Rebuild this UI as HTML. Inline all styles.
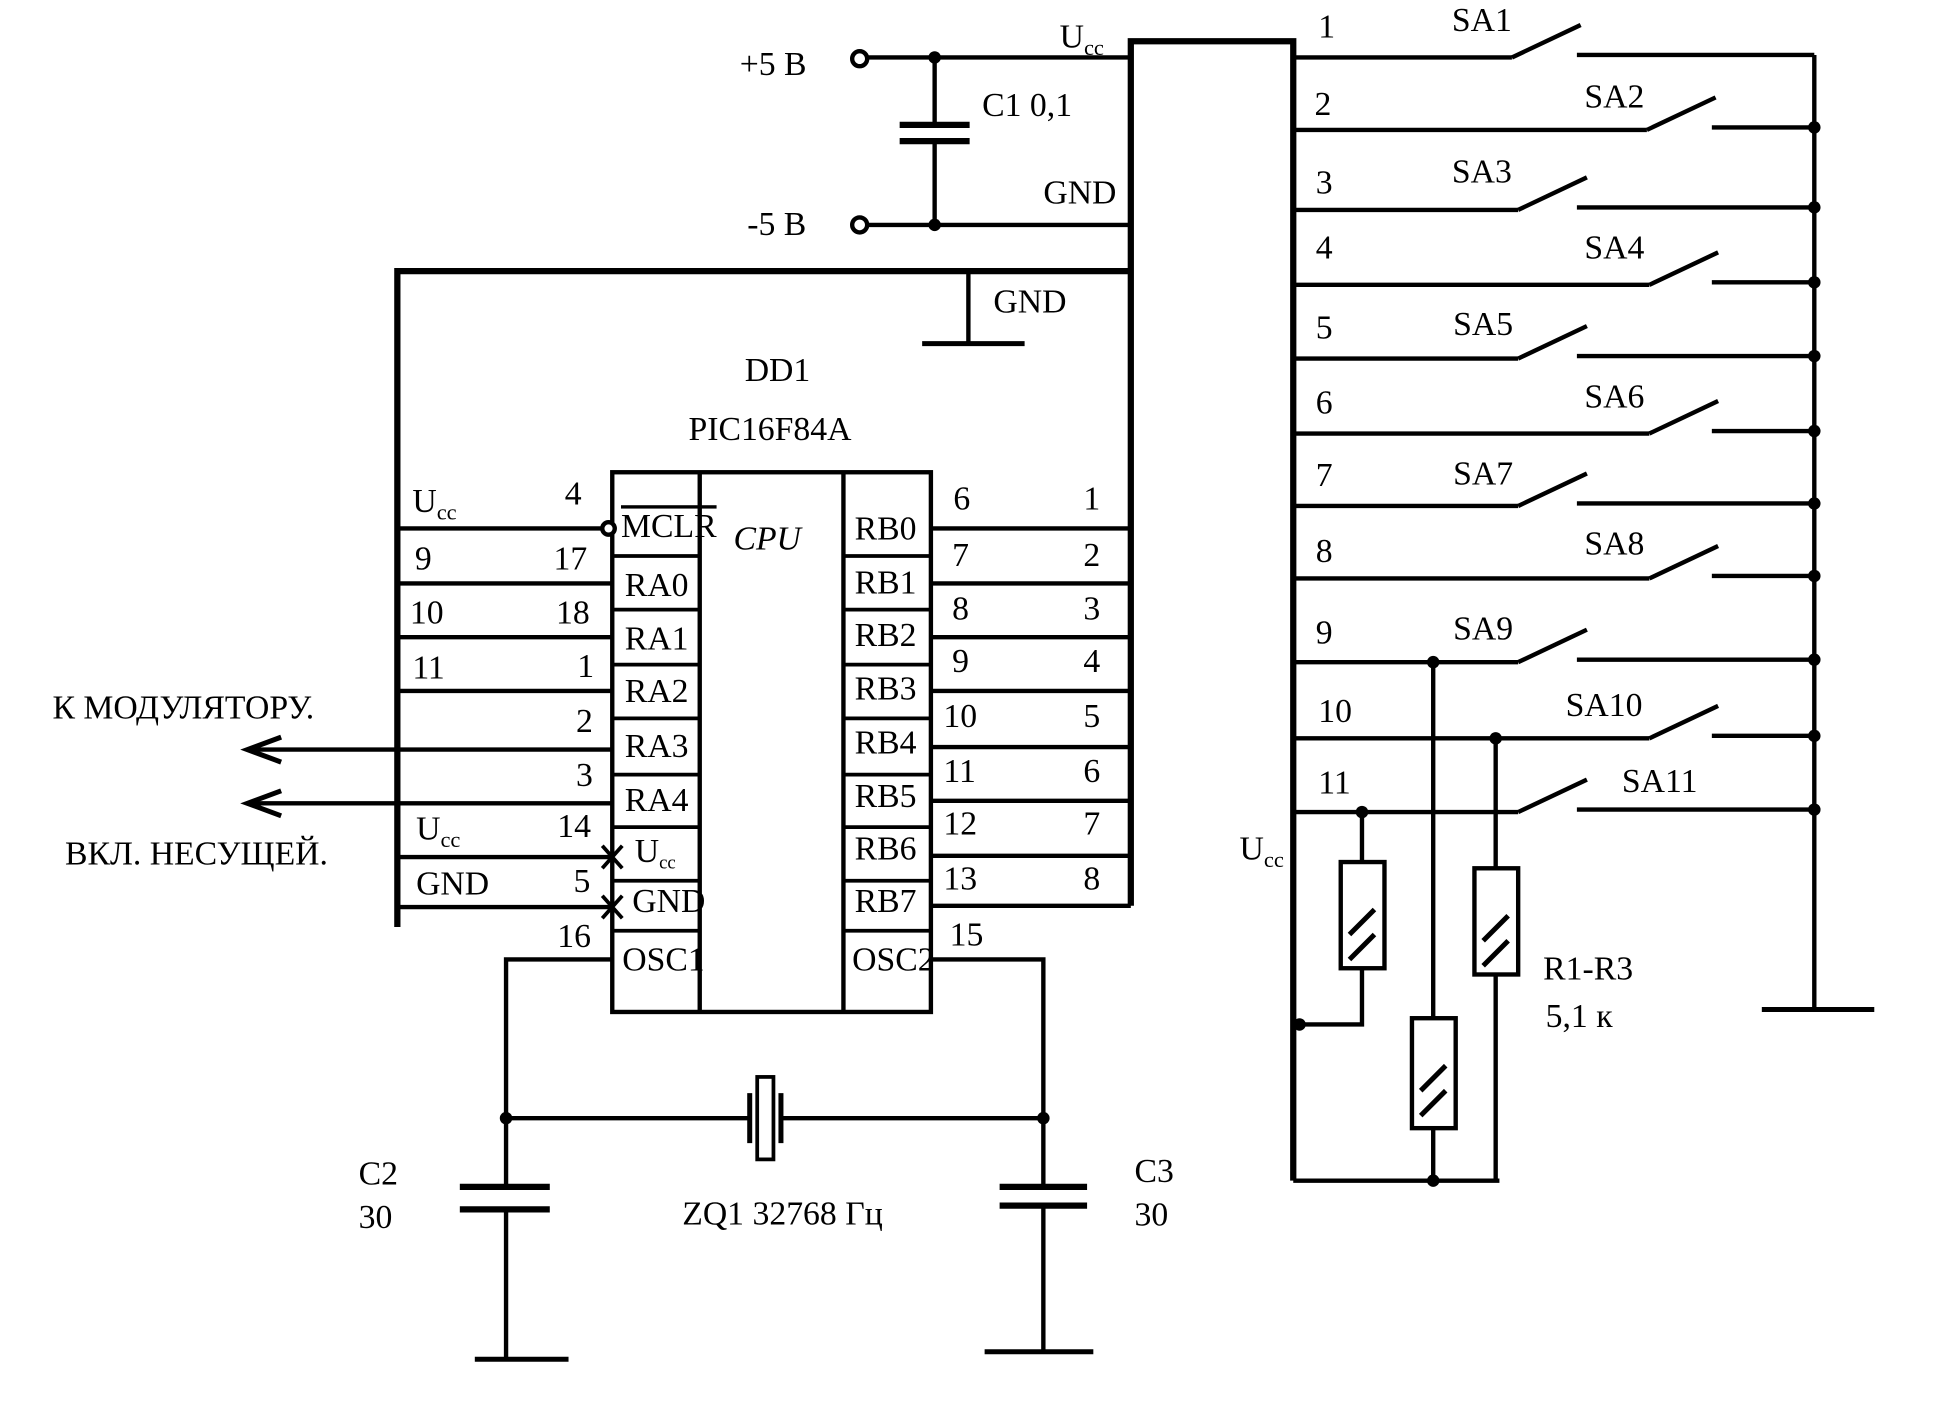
<!DOCTYPE html>
<html><head><meta charset="utf-8"><style>
html,body{margin:0;padding:0;background:#fff;}
svg{display:block}
text{font-family:"Liberation Serif","DejaVu Serif",serif;font-size:27px;fill:#000}
</style></head><body>
<svg width="1958" height="1423" viewBox="0 0 1567 1139" preserveAspectRatio="none" xmlns="http://www.w3.org/2000/svg">
<g stroke="#000" stroke-width="3.5" fill="none">
<line x1="694" y1="46" x2="905" y2="46"/>
<line x1="694" y1="180" x2="905" y2="180"/>
<line x1="748" y1="46" x2="748" y2="100"/><line x1="748" y1="113" x2="748" y2="180"/>
<line x1="720" y1="100" x2="776" y2="100" stroke-width="5"/><line x1="720" y1="113" x2="776" y2="113" stroke-width="5"/>
<circle cx="688" cy="47" r="6" fill="#fff"/><circle cx="688" cy="180" r="6" fill="#fff"/>
<polyline points="905,725 905,33 1035,33 1035,945" stroke-width="5"/>
<polyline points="905,217 318,217 318,742" stroke-width="5"/>
<line x1="775" y1="217" x2="775" y2="275"/><line x1="738" y1="275" x2="820" y2="275" stroke-width="4"/>
<rect x="490" y="378" width="255" height="432" stroke-width="3.5"/>
<line x1="560" y1="378" x2="560" y2="810"/><line x1="675" y1="378" x2="675" y2="810"/>
<g stroke-width="3">
<line x1="490" y1="445" x2="560" y2="445"/><line x1="490" y1="488" x2="560" y2="488"/><line x1="490" y1="532" x2="560" y2="532"/><line x1="490" y1="575" x2="560" y2="575"/><line x1="490" y1="620" x2="560" y2="620"/><line x1="490" y1="662" x2="560" y2="662"/><line x1="490" y1="705" x2="560" y2="705"/><line x1="490" y1="745" x2="560" y2="745"/>
<line x1="675" y1="445" x2="745" y2="445"/><line x1="675" y1="488" x2="745" y2="488"/><line x1="675" y1="532" x2="745" y2="532"/><line x1="675" y1="575" x2="745" y2="575"/><line x1="675" y1="620" x2="745" y2="620"/><line x1="675" y1="662" x2="745" y2="662"/><line x1="675" y1="705" x2="745" y2="705"/><line x1="675" y1="745" x2="745" y2="745"/>
</g>
<line x1="318" y1="423" x2="482" y2="423"/><circle cx="487" cy="423" r="5" fill="#fff"/>
<line x1="318" y1="467" x2="490" y2="467"/><line x1="318" y1="510" x2="490" y2="510"/><line x1="318" y1="553" x2="490" y2="553"/>
<line x1="200" y1="600" x2="490" y2="600"/><line x1="200" y1="643" x2="490" y2="643"/>
<line x1="318" y1="686" x2="490" y2="686"/><line x1="318" y1="726" x2="490" y2="726"/>
<polyline points="225,590 198,600 225,610" stroke-width="4"/><polyline points="225,633 198,643 225,653" stroke-width="4"/>
<path d="M482,677 l16,18 M498,677 l-16,18 M482,717 l16,18 M498,717 l-16,18" stroke-width="3"/>
<line x1="745" y1="423" x2="905" y2="423"/><line x1="745" y1="467" x2="905" y2="467"/><line x1="745" y1="510" x2="905" y2="510"/><line x1="745" y1="553" x2="905" y2="553"/><line x1="745" y1="598" x2="905" y2="598"/><line x1="745" y1="641" x2="905" y2="641"/><line x1="745" y1="685" x2="905" y2="685"/><line x1="745" y1="725" x2="905" y2="725"/>
<polyline points="490,768 405,768 405,950"/><line x1="405" y1="968" x2="405" y2="1088"/>
<polyline points="745,768 835,768 835,950"/><line x1="835" y1="965" x2="835" y2="1082"/>
<line x1="405" y1="895" x2="600" y2="895"/><line x1="625" y1="895" x2="835" y2="895"/>
<line x1="600" y1="875" x2="600" y2="915" stroke-width="4"/><line x1="625" y1="875" x2="625" y2="915" stroke-width="4"/>
<rect x="606" y="862" width="13" height="66" stroke-width="3"/>
<line x1="368" y1="950" x2="440" y2="950" stroke-width="5"/><line x1="368" y1="968" x2="440" y2="968" stroke-width="5"/>
<line x1="800" y1="950" x2="870" y2="950" stroke-width="5"/><line x1="800" y1="965" x2="870" y2="965" stroke-width="5"/>
<line x1="380" y1="1088" x2="455" y2="1088" stroke-width="4"/><line x1="788" y1="1082" x2="875" y2="1082" stroke-width="4"/>
<g stroke-width="3.5">
<line x1="1035" y1="46" x2="1210" y2="46"/><line x1="1210" y1="46" x2="1265" y2="20"/><line x1="1262" y1="44" x2="1452" y2="44"/>
<line x1="1035" y1="104" x2="1318" y2="104"/><line x1="1318" y1="104" x2="1373" y2="78"/><line x1="1370" y1="102" x2="1452" y2="102"/>
<line x1="1035" y1="168" x2="1215" y2="168"/><line x1="1215" y1="168" x2="1270" y2="142"/><line x1="1262" y1="166" x2="1452" y2="166"/>
<line x1="1035" y1="228" x2="1320" y2="228"/><line x1="1320" y1="228" x2="1375" y2="202"/><line x1="1370" y1="226" x2="1452" y2="226"/>
<line x1="1035" y1="287" x2="1215" y2="287"/><line x1="1215" y1="287" x2="1270" y2="261"/><line x1="1262" y1="285" x2="1452" y2="285"/>
<line x1="1035" y1="347" x2="1320" y2="347"/><line x1="1320" y1="347" x2="1375" y2="321"/><line x1="1370" y1="345" x2="1452" y2="345"/>
<line x1="1035" y1="405" x2="1215" y2="405"/><line x1="1215" y1="405" x2="1270" y2="379"/><line x1="1262" y1="403" x2="1452" y2="403"/>
<line x1="1035" y1="463" x2="1320" y2="463"/><line x1="1320" y1="463" x2="1375" y2="437"/><line x1="1370" y1="461" x2="1452" y2="461"/>
<line x1="1035" y1="530" x2="1215" y2="530"/><line x1="1215" y1="530" x2="1270" y2="504"/><line x1="1262" y1="528" x2="1452" y2="528"/>
<line x1="1035" y1="591" x2="1320" y2="591"/><line x1="1320" y1="591" x2="1375" y2="565"/><line x1="1370" y1="589" x2="1452" y2="589"/>
<line x1="1035" y1="650" x2="1215" y2="650"/><line x1="1215" y1="650" x2="1270" y2="624"/><line x1="1262" y1="648" x2="1452" y2="648"/>
</g>
<line x1="1452" y1="44" x2="1452" y2="808"/><line x1="1410" y1="808" x2="1500" y2="808" stroke-width="4"/>
<polyline points="1090,650 1090,690"/><rect x="1073" y="690" width="35" height="85"/><polyline points="1090,775 1090,820 1040,820"/>
<polyline points="1147,530 1147,815"/><rect x="1130" y="815" width="35" height="88"/><line x1="1147" y1="903" x2="1147" y2="945"/>
<polyline points="1197,591 1197,695"/><rect x="1180" y="695" width="35" height="85"/><line x1="1197" y1="780" x2="1197" y2="945"/>
<line x1="1035" y1="945" x2="1200" y2="945"/>
<path d="M1080,748 l20,-20 M1080,768 l20,-20 M1137,873 l20,-20 M1137,893 l20,-20 M1187,753 l20,-20 M1187,773 l20,-20" stroke-width="4"/>
</g>
<g fill="#000">
<circle cx="748" cy="46" r="5"/><circle cx="748" cy="180" r="5"/>
<circle cx="405" cy="895" r="5"/><circle cx="835" cy="895" r="5"/>
<circle cx="1452" cy="102" r="5"/><circle cx="1452" cy="166" r="5"/><circle cx="1452" cy="226" r="5"/><circle cx="1452" cy="285" r="5"/><circle cx="1452" cy="345" r="5"/><circle cx="1452" cy="403" r="5"/><circle cx="1452" cy="461" r="5"/><circle cx="1452" cy="528" r="5"/><circle cx="1452" cy="589" r="5"/><circle cx="1452" cy="648" r="5"/>
<circle cx="1090" cy="650" r="5"/><circle cx="1147" cy="530" r="5"/><circle cx="1197" cy="591" r="5"/><circle cx="1040" cy="820" r="5"/><circle cx="1147" cy="945" r="5"/>
</g>
<text x="592" y="60">+5 В</text><text x="598" y="188">-5 В</text>
<text x="786" y="93">C1 0,1</text>
<text x="848" y="38">U<tspan font-size="18" dy="6">cc</tspan></text>
<text x="835" y="163">GND</text><text x="795" y="250">GND</text>
<text x="596" y="305">DD1</text><text x="551" y="352">PIC16F84A</text>
<text x="587" y="440" font-style="italic">CPU</text>
<g font-size="22">
<text x="497" y="430" font-size="17" text-decoration="overline">MCLR</text>
<text x="500" y="477">RA0</text><text x="500" y="520">RA1</text><text x="500" y="562">RA2</text><text x="500" y="606">RA3</text><text x="500" y="649">RA4</text>
<text x="508" y="690">U<tspan font-size="15" dy="5">cc</tspan></text><text x="506" y="730" font-size="20">GND</text><text x="498" y="777" font-size="20">OSC1</text>
<text x="684" y="432">RB0</text><text x="684" y="475">RB1</text><text x="684" y="517">RB2</text><text x="684" y="560">RB3</text><text x="684" y="603">RB4</text><text x="684" y="646">RB5</text><text x="684" y="688">RB6</text><text x="684" y="730">RB7</text><text x="682" y="777" font-size="20">OSC2</text>
</g>
<text x="330" y="410">U<tspan font-size="18" dy="6">cc</tspan></text><text x="452" y="404">4</text>
<text x="332" y="456">9</text><text x="443" y="456">17</text>
<text x="328" y="499">10</text><text x="445" y="499">18</text>
<text x="330" y="543">11</text><text x="462" y="542">1</text>
<text x="461" y="586">2</text><text x="461" y="629">3</text>
<text x="333" y="672">U<tspan font-size="18" dy="6">cc</tspan></text><text x="446" y="670">14</text>
<text x="333" y="716" font-size="24">GND</text><text x="459" y="714">5</text><text x="446" y="758">16</text>
<text x="763" y="408">6</text><text x="867" y="408">1</text>
<text x="762" y="453">7</text><text x="867" y="453">2</text>
<text x="762" y="496">8</text><text x="867" y="496">3</text>
<text x="762" y="538">9</text><text x="867" y="538">4</text>
<text x="755" y="582">10</text><text x="867" y="582">5</text>
<text x="755" y="626">11</text><text x="867" y="626">6</text>
<text x="755" y="668">12</text><text x="867" y="668">7</text>
<text x="755" y="712">13</text><text x="867" y="712">8</text>
<text x="760" y="757">15</text>
<text x="42" y="575" font-size="24">К МОДУЛЯТОРУ.</text>
<text x="52" y="692" font-size="24">ВКЛ. НЕСУЩЕЙ.</text>
<text x="287" y="948">C2</text><text x="287" y="983">30</text>
<text x="908" y="946">C3</text><text x="908" y="981">30</text>
<text x="546" y="980">ZQ1 32768 Гц</text>
<text x="1055" y="30">1</text><text x="1052" y="92">2</text><text x="1053" y="155">3</text><text x="1053" y="207">4</text><text x="1053" y="271">5</text><text x="1053" y="331">6</text><text x="1053" y="389">7</text><text x="1053" y="450">8</text><text x="1053" y="515">9</text><text x="1055" y="578">10</text><text x="1055" y="635">11</text>
<text x="1162" y="25">SA1</text><text x="1268" y="86">SA2</text><text x="1162" y="146">SA3</text><text x="1268" y="207">SA4</text><text x="1163" y="268">SA5</text><text x="1268" y="326">SA6</text><text x="1163" y="388">SA7</text><text x="1268" y="444">SA8</text><text x="1163" y="512">SA9</text><text x="1253" y="573">SA10</text><text x="1298" y="634">SA11</text>
<text x="992" y="688">U<tspan font-size="18" dy="6">cc</tspan></text>
<text x="1235" y="784">R1-R3</text><text x="1237" y="822">5,1 к</text>
</svg>
</body></html>
